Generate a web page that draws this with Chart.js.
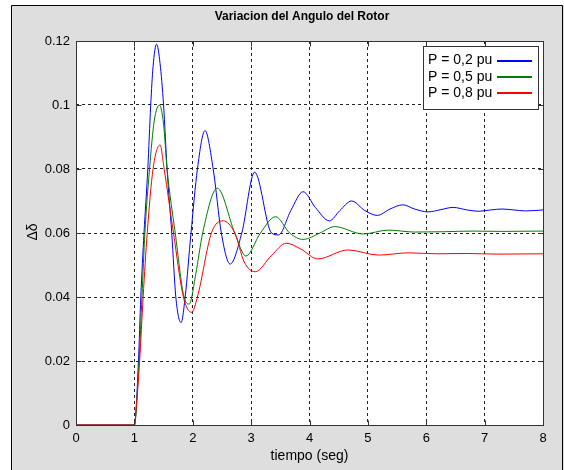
<!DOCTYPE html>
<html>
<head>
<meta charset="utf-8">
<title>Variacion del Angulo del Rotor</title>
<script src="https://cdn.jsdelivr.net/npm/chart.js@4"></script>
<style>
  html, body { margin: 0; padding: 0; background: #fff; }
</style>
</head>
<body>
<canvas id="chart" width="564" height="470"></canvas>
<script>
// values (t in seg, delta in pu)
const tBlue = [0, 1, 1.07, 1.11, 1.165, 1.23, 1.28, 1.32, 1.38, 1.44, 1.50, 1.56, 1.64, 1.71, 1.80, 1.87, 1.97, 2.08, 2.21, 2.35, 2.49, 2.64, 2.84, 3.06, 3.35, 3.47, 3.68, 3.89, 4.10, 4.34, 4.52, 4.72, 4.95, 5.16, 5.38, 5.60, 5.80, 6.03, 6.25, 6.46, 6.70, 6.90, 7.10, 7.30, 7.50, 7.70, 8];
const vBlue = [0, 0, 0.02, 0.04, 0.06, 0.08, 0.10, 0.112, 0.119, 0.113, 0.10, 0.08, 0.06, 0.04, 0.032, 0.04, 0.06, 0.08, 0.092, 0.08, 0.06, 0.0503, 0.06, 0.079, 0.06, 0.0594, 0.067, 0.0729, 0.068, 0.0638, 0.067, 0.070, 0.067, 0.0655, 0.0675, 0.0688, 0.0675, 0.0666, 0.0673, 0.068, 0.0672, 0.0668, 0.0672, 0.0675, 0.0672, 0.0669, 0.0672];

const tGreen = [0, 1, 1.08, 1.13, 1.18, 1.26, 1.34, 1.43, 1.50, 1.56, 1.70, 1.85, 1.94, 2.05, 2.17, 2.42, 2.72, 2.91, 3.16, 3.42, 3.66, 3.89, 4.18, 4.43, 4.92, 5.35, 5.80, 6.30, 6.80, 7.30, 8];
const vGreen = [0, 0, 0.02, 0.04, 0.06, 0.08, 0.095, 0.100, 0.094, 0.08, 0.06, 0.04, 0.0378, 0.047, 0.06, 0.074, 0.06, 0.0528, 0.06, 0.0651, 0.06, 0.058, 0.06, 0.062, 0.0597, 0.0609, 0.0603, 0.0604, 0.0606, 0.0605, 0.0606];

const tRed = [0, 1, 1.03, 1.09, 1.15, 1.22, 1.32, 1.44, 1.51, 1.67, 1.84, 1.98, 2.08, 2.32, 2.52, 2.72, 2.88, 3.07, 3.35, 3.60, 3.85, 4.14, 4.66, 5.18, 5.70, 6.20, 6.70, 7.20, 8];
const vRed = [0, 0, 0.005, 0.02, 0.04, 0.06, 0.08, 0.0875, 0.08, 0.06, 0.04, 0.0352, 0.04, 0.06, 0.0638, 0.06, 0.051, 0.0479, 0.053, 0.0568, 0.055, 0.0519, 0.0547, 0.0531, 0.0538, 0.0535, 0.0536, 0.0534, 0.0535];

const seriesLabels = ['P = 0,2 pu', 'P = 0,5 pu', 'P = 0,8 pu'];
const seriesColors = ['#0000ff', '#008000', '#ff0000'];

const xTicks = [0, 1, 2, 3, 4, 5, 6, 7, 8];
const xTickLabels = ['0', '1', '2', '3', '4', '5', '6', '7', '8'];
const yTicks = [0, 0.02, 0.04, 0.06, 0.08, 0.1, 0.12];
const yTickLabels = ['0', '0.02', '0.04', '0.06', '0.08', '0.1', '0.12'];

const FONT = '"Liberation Sans", Arial, sans-serif';

function pts(ts, vs) {
  return ts.map((t, i) => ({ x: t, y: vs[i] }));
}

function series(i, ts, vs, order) {
  return {
    label: seriesLabels[i],
    data: pts(ts, vs),
    borderColor: seriesColors[i],
    borderWidth: 1,
    pointRadius: 0,
    fill: false,
    cubicInterpolationMode: 'monotone',
    order: order
  };
}

// grey figure window, white axes
const figurePlugin = {
  id: 'figure',
  beforeDraw(chart) {
    const { ctx, chartArea: a } = chart;
    ctx.save();
    ctx.fillStyle = '#fff';
    ctx.fillRect(0, 0, chart.width, chart.height);
    ctx.fillStyle = '#dedede';
    ctx.fillRect(11, 5, chart.width - 11, chart.height - 5);
    ctx.strokeStyle = '#000';
    ctx.lineWidth = 1;
    ctx.beginPath();
    ctx.moveTo(11.5, chart.height);
    ctx.lineTo(11.5, 5.5);
    ctx.lineTo(562.5, 5.5);
    ctx.lineTo(562.5, chart.height);
    ctx.stroke();
    ctx.fillStyle = '#fff';
    ctx.fillRect(a.left, a.top, a.right - a.left, a.bottom - a.top);
    ctx.restore();
  },
  afterDatasetsDraw(chart) {
    const { ctx, chartArea: a, scales } = chart;
    const L = Math.round(a.left) + 0.5, R = Math.round(a.right) + 0.5;
    const T = Math.round(a.top) + 0.5, B = Math.round(a.bottom) + 0.5;
    ctx.save();
    // box
    ctx.strokeStyle = '#333';
    ctx.lineWidth = 1;
    ctx.strokeRect(L, T, R - L, B - T);
    // inward ticks on all four sides
    ctx.beginPath();
    scales.x.ticks.forEach(t => {
      const px = Math.round(scales.x.getPixelForValue(t.value)) + 0.5;
      ctx.moveTo(px, B); ctx.lineTo(px, B - 5);
      ctx.moveTo(px, T); ctx.lineTo(px, T + 5);
    });
    scales.y.ticks.forEach(t => {
      const py = Math.round(scales.y.getPixelForValue(t.value)) + 0.5;
      ctx.moveTo(L, py); ctx.lineTo(L + 5, py);
      ctx.moveTo(R, py); ctx.lineTo(R - 5, py);
    });
    ctx.stroke();

    // title and axis labels
    ctx.fillStyle = '#000';
    ctx.textAlign = 'center';
    ctx.textBaseline = 'middle';
    ctx.font = 'bold 12px ' + FONT;
    ctx.fillText('Variacion del Angulo del Rotor', 302, 17);
    ctx.font = '14px ' + FONT;
    ctx.fillText('tiempo (seg)', (a.left + a.right) / 2, 456);
    ctx.save();
    ctx.translate(33, 232);
    ctx.rotate(-Math.PI / 2);
    ctx.fillText('\u0394\u03b4', 0, 0);
    ctx.restore();

    // legend box inside, top right
    const lx = 423.5, ly = 46.5, lw = 115, lh = 63;
    ctx.fillStyle = '#fff';
    ctx.fillRect(lx, ly, lw, lh);
    ctx.strokeStyle = '#333';
    ctx.strokeRect(lx, ly, lw, lh);
    ctx.font = '14px ' + FONT;
    ctx.textAlign = 'left';
    chart.data.datasets.forEach((ds, i) => {
      const y = 60.5 + i * 16.3;
      ctx.fillStyle = '#000';
      ctx.fillText(ds.label, 428, y);
      ctx.strokeStyle = ds.borderColor;
      ctx.lineWidth = 2;
      ctx.beginPath();
      ctx.moveTo(497, Math.round(y));
      ctx.lineTo(532, Math.round(y));
      ctx.stroke();
    });
    ctx.restore();
  }
};

new Chart(document.getElementById('chart'), {
  type: 'line',
  data: {
    datasets: [
      series(0, tBlue, vBlue, 3),
      series(1, tGreen, vGreen, 2),
      series(2, tRed, vRed, 1)
    ]
  },
  options: {
    responsive: false,
    animation: false,
    layout: { padding: { top: 41, right: 21, left: 0, bottom: 0 } },
    plugins: { legend: { display: false }, tooltip: { enabled: false }, title: { display: false } },
    scales: {
      x: {
        type: 'linear',
        min: 0,
        max: 8,
        afterBuildTicks: s => { s.ticks = xTicks.map(v => ({ value: v })); },
        afterFit: s => { s.height = 45; },
        grid: { color: '#222', lineWidth: 1, drawTicks: false },
        border: { display: false, dash: [3, 3] },
        ticks: {
          padding: 6,
          color: '#000',
          maxRotation: 0,
          autoSkip: false,
          font: { family: FONT, size: 13 },
          callback: (v, i) => xTickLabels[i]
        }
      },
      y: {
        type: 'linear',
        min: 0,
        max: 0.12,
        afterBuildTicks: s => { s.ticks = yTicks.map(v => ({ value: v })); },
        afterFit: s => { s.width = 76; },
        grid: { color: '#222', lineWidth: 1, drawTicks: false },
        border: { display: false, dash: [3, 3] },
        ticks: {
          padding: 6,
          color: '#000',
          autoSkip: false,
          font: { family: FONT, size: 13 },
          callback: (v, i) => yTickLabels[i]
        }
      }
    }
  },
  plugins: [figurePlugin]
});
</script>
</body>
</html>
